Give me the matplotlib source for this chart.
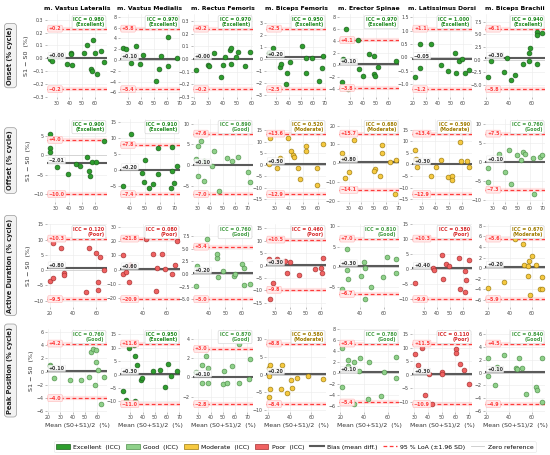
import numpy as np
import matplotlib
matplotlib.use('agg')
import matplotlib.pyplot as plt
import matplotlib.transforms as mtransforms
from matplotlib.patches import Patch
from matplotlib.lines import Line2D
from matplotlib.ticker import MaxNLocator

muscles = ["m. Vastus Lateralis", "m. Vastus Medialis", "m. Rectus Femoris",
           "m. Biceps Femoris", "m. Erector Spinae", "m. Latissimus Dorsi",
           "m. Biceps Brachii"]
row_labels = ["Onset (% cycle)", "Offset (% cycle)", "Active Duration (% cycle)",
              "Peak Position (% cycle)"]

# ---- Onset ----
onset_x = [
    [24.4, 25.8, 38.0, 41.4, 41.4, 41.9, 51.7, 54.2, 58.3, 57.0, 57.8, 60.0, 62.0, 65.3, 67.5],
    [25.7, 28.0, 35.8, 32.3, 41.2, 39.1, 55.8, 60.9, 53.8, 60.9, 51.7, 68.3],
    [21.2, 29.8, 30.5, 33.9, 38.8, 40.0, 41.5, 45.1, 46.0, 45.6, 49.0, 50.7, 55.4, 59.3],
    [23.8, 27.2, 32.8, 34.2, 37.6, 38.8, 41.6, 51.2, 54.4, 54.4, 58.9, 65.1, 68.5, 67.7],
    [26.7, 24.3, 23.2, 28.4, 35.9, 36.8, 39.7, 44.6, 49.0, 49.0, 49.3, 52.2, 66.4],
    [21.4, 25.9, 25.7, 34.4, 42.1, 48.3, 53.7, 54.2, 57.1, 59.1, 61.9, 65.3],
    [21.5, 24.6, 35.4, 37.8, 41.5, 45.5, 52.3, 57.2, 57.2, 58.8, 64.3, 64.6, 64.6, 69.2],
]
onset_y = [
    [-0.005, -0.024, -0.046, 0.043, 0.035, -0.054, 0.040, 0.100, 0.143, -0.084, -0.100, 0.043, -0.120, 0.060, -0.027],
    [2.15, 1.97, 2.6, -0.6, 0.86, -0.74, 0.8, 4.3, -1.6, -1.1, -3.8, 0.43],
    [-0.084, -0.046, -0.060, 0.050, -0.146, -0.046, 0.014, 0.070, 0.084, -0.038, 0.014, 0.054, -0.060, 0.054],
    [0.53, 0.94, -0.64, -0.39, -2.1, -1.17, -0.28, 1.03, 0.11, -1.17, 0.06, -1.8, 0.28, -0.72],
    [6.0, 1.03, -2.8, -4.0, 4.06, -0.69, -1.83, 1.77, 1.43, -1.43, -1.77, -0.29, 0.69],
    [-0.75, 0.5, -0.42, 0.5, -0.31, -0.52, 0.16, -0.58, -0.14, -0.08, -0.61, -0.47],
    [-3.45, -0.2, -2.4, 0.34, -3.9, -3.0, -0.9, -0.34, 1.3, 2.3, -0.83, 5.5, 4.8, 5.3],
]
onset_bias = [0.00, 0.10, 0.00, 0.20, 0.10, -0.05, 0.30]
onset_hi = [0.23, 5.8, 0.24, 2.5, 4.1, 1.07, 6.1]
onset_lo = [-0.24, -5.4, -0.24, -2.5, -3.8, -1.2, -5.8]
onset_icc = [0.980, 0.970, 0.970, 0.950, 0.970, 1.000, 0.940]

# ---- Offset ----
offset_x = [
    [25.8, 25.8, 26.3, 31.6, 39.7, 45.4, 48.8, 54.0, 55.0, 55.8, 57.2, 60.5, 66.6],
    [35.0, 40.8, 50.3, 47.9, 49.7, 52.6, 55.3, 58.9, 58.9, 68.4, 68.4, 69.7, 67.6, 72.0],
    [28.6, 30.0, 33.1, 30.0, 35.1, 35.1, 41.7, 43.1, 46.9, 53.1, 57.4, 61.7, 70.3, 71.7],
    [26.9, 26.0, 31.7, 33.6, 39.5, 41.2, 43.1, 43.8, 46.0, 47.4, 52.1, 52.1, 59.8, 59.8, 63.8],
    [24.5, 26.1, 34.6, 30.0, 26.8, 51.3, 50.7, 55.0, 57.0, 57.0, 63.5, 68.4, 67.2],
    [24.5, 25.3, 25.8, 36.3, 40.5, 44.5, 49.5, 52.1, 52.4, 58.2, 59.0, 63.4, 65.5],
    [26.3, 26.3, 35.3, 40.0, 43.4, 45.0, 49.7, 54.4, 55.9, 52.8, 62.2, 63.1, 68.1, 70.0],
]
offset_y = [
    [5.6, 2.0, 0.9, -3.0, -4.7, -2.3, -2.7, -0.4, -4.1, -5.3, -1.8, -1.6, 3.6],
    [-4.8, 11.3, 3.0, -0.75, -3.5, -5.4, -4.3, -1.1, 7.0, 7.2, -0.3, -4.0, -5.6, 1.4],
    [1.4, 4.5, 5.8, -2.5, -3.9, 1.0, -0.25, 3.4, -6.2, 1.7, 1.0, 1.9, -1.7, -4.0],
    [11.7, 0.3, -1.4, 2.9, 11.7, 6.0, 4.3, 3.3, -1.4, -6.1, 8.1, 6.0, -1.4, -9.0, 8.9],
    [5.6, 3.0, 12.5, -4.7, -8.0, -2.8, -4.1, -6.5, 9.7, 5.6, 0.9, 1.5, -16.4],
    [6.3, 2.3, -0.9, -5.1, -0.9, 1.9, -5.3, -4.9, -6.9, 9.7, 1.6, 1.3, -0.9],
    [-1.6, -5.2, 2.1, -2.7, 3.1, -5.8, 1.9, 2.7, 2.2, 0.6, 1.0, -8.5, 1.2, 1.9],
]
offset_bias = [-2.01, 0.20, 0.10, 0.50, 0.80, 0.30, 0.10]
offset_hi = [4.0, 7.8, 7.6, 13.6, 15.7, 13.4, 7.5]
offset_lo = [-10.0, -7.4, -7.0, -12.9, -14.1, -12.9, -7.3]
offset_icc = [0.900, 0.910, 0.890, 0.520, 0.680, 0.590, 0.760]

# ---- Active duration ----
dur_x = [
    [20.0, 22.9, 22.9, 29.4, 32.3, 32.3, 51.5, 54.1, 59.9, 61.2, 61.2, 63.3, 66.8],
    [22.4, 23.0, 24.8, 27.8, 29.0, 42.2, 48.2, 50.6, 52.1, 56.0, 59.0, 65.0, 67.1, 69.2],
    [32.3, 32.9, 38.9, 45.1, 45.1, 45.7, 48.9, 55.1, 56.0, 60.3, 61.4, 61.4, 65.1],
    [26.0, 26.0, 28.8, 26.7, 31.4, 31.4, 36.6, 38.2, 40.1, 45.5, 56.5, 60.4, 60.7, 61.6],
    [24.6, 28.6, 28.6, 29.7, 40.9, 42.9, 44.3, 44.3, 48.9, 58.9, 62.3, 70.3, 70.3],
    [22.6, 36.5, 37.9, 43.6, 44.7, 46.9, 49.1, 57.3, 57.8, 61.9, 62.4, 61.9, 65.1],
    [20.0, 26.3, 35.1, 44.5, 52.1, 53.0, 57.1, 56.8, 56.8, 60.0, 58.8, 64.1, 69.7, 67.2, 69.7],
]
dur_y = [
    [-3.6, 8.8, -2.5, 7.1, -1.1, -1.6, -7.1, 7.1, 5.7, -4.0, -6.5, 4.3, 0.0],
    [10.5, -3.5, -1.6, -8.6, 3.5, 21.2, 10.7, -14.9, 1.4, 10.7, 0.7, -3.5, 3.0, 19.8],
    [-2.4, 1.6, 7.0, 3.1, 3.9, -0.7, 0.5, -0.34, 0.0, 1.9, 1.2, -2.1, -1.9],
    [10.9, 2.7, -7.2, -13.6, 2.7, 2.0, 1.7, -3.0, 1.3, -3.7, -1.6, -0.85, -3.0, 3.1],
    [-5.5, 4.3, -0.7, -2.9, -2.2, 1.3, -8.0, -0.2, -5.0, -2.6, 2.5, -1.6, 1.9],
    [-4.5, 0.46, -0.2, 4.7, -3.1, 1.8, 1.0, 3.9, -6.4, -0.46, -3.6, -7.4, 3.0],
    [-3.7, -5.6, -2.7, 5.6, 4.6, 0.5, 1.4, 0.4, -1.5, 2.3, -5.1, 0.5, -1.7, -4.0, -3.9],
]
dur_bias = [0.80, 0.60, 0.20, 0.30, 0.30, 0.40, 0.20]
dur_hi = [10.3, 21.8, 5.4, 10.5, 7.0, 10.3, 5.6]
dur_lo = [-9.5, -20.9, -5.0, -9.8, -6.7, -9.9, -5.9]
dur_icc = [0.120, 0.080, 0.760, 0.460, 0.810, 0.380, 0.670]

# ---- Peak position ----
peak_x = [
    [21.4, 22.0, 24.9, 38.0, 47.1, 53.4, 55.1, 56.3, 59.4, 59.1, 60.6, 58.6, 63.4, 65.7],
    [23.7, 26.0, 28.9, 32.9, 33.4, 34.0, 35.7, 38.6, 39.1, 48.3, 54.3, 58.6, 60.6, 62.9, 68.3],
    [28.0, 32.9, 32.9, 36.6, 38.0, 38.0, 50.9, 50.0, 53.7, 57.1, 62.9, 63.1, 71.7, 72.3],
    [21.0, 22.2, 21.6, 22.2, 21.6, 32.7, 32.1, 37.5, 41.3, 42.2, 47.0, 57.1, 70.8],
    [21.4, 21.4, 26.9, 26.9, 32.0, 35.7, 36.3, 31.4, 44.3, 43.1, 54.6, 56.6, 67.1, 66.6],
    [30.5, 33.1, 35.6, 37.7, 40.8, 42.8, 50.5, 50.5, 60.8, 60.8, 63.3, 66.7, 70.3],
    [21.5, 21.5, 29.5, 28.0, 35.7, 46.2, 47.1, 49.2, 51.7, 54.8, 64.0, 64.9, 69.2, 69.5],
]
peak_y = [
    [1.05, 0.8, -0.95, -1.2, -1.2, -0.8, 3.0, 3.4, 3.16, 1.5, 0.2, -2.1, -4.9, -0.84],
    [-6.0, -9.5, 10.0, 10.9, -9.7, 7.1, 3.5, -1.9, -1.4, 1.2, 1.9, -4.5, 3.9, -0.65, 1.3],
    [0.55, 1.27, -0.6, 2.3, 1.0, -0.6, 0.65, -0.65, -0.6, 1.2, -0.55, 3.56, -0.2, 1.9],
    [1.8, 2.6, -0.3, -4.2, -6.5, 2.6, -4.2, -5.3, -1.6, -3.9, -0.9, -0.5, -1.2],
    [-2.5, 4.5, 2.3, 1.2, 2.0, 0.3, 2.7, -5.7, 2.0, -4.7, -4.2, 0.1, 2.9, -1.0],
    [7.6, 3.7, 10.0, -7.5, 0.13, -10.8, 1.05, 0.4, 9.5, 7.9, 4.1, 1.7, -3.6],
    [2.25, -0.5, 0.9, -2.0, 2.8, 0.75, 0.6, 2.2, 0.65, -3.3, -2.3, -2.7, 2.25, -4.5],
]
peak_bias = [0.10, 0.30, 0.10, 0.20, 0.10, 0.30, 0.10]
peak_hi = [4.2, 11.6, 3.0, 8.8, 5.4, 11.5, 4.5]
peak_lo = [-4.0, -11.0, -2.8, -8.4, -5.4, -10.9, -4.9]
peak_icc = [0.760, 0.950, 0.870, 0.580, 0.780, 0.110, 0.840]

rows = [
    (onset_x, onset_y, onset_bias, onset_hi, onset_lo, onset_icc),
    (offset_x, offset_y, offset_bias, offset_hi, offset_lo, offset_icc),
    (dur_x, dur_y, dur_bias, dur_hi, dur_lo, dur_icc),
    (peak_x, peak_y, peak_bias, peak_hi, peak_lo, peak_icc),
]

# category -> (fill, edge, text colour)
cat_style = {
    "Excellent": ("#2e9e2e", "#1d5e1d", "#1f8a1f"),
    "Good": ("#8fd18a", "#4f8f4a", "#3f9a3f"),
    "Moderate": ("#f6c940", "#9a7a10", "#a07c00"),
    "Poor": ("#f06262", "#a33030", "#d62728"),
}


def icc_category(v):
    if v >= 0.9:
        return "Excellent"
    if v >= 0.75:
        return "Good"
    if v >= 0.5:
        return "Moderate"
    return "Poor"


def fmt(v, nd):
    return f"{v:+.{nd}f}".replace("-", "\u2212")


LOA_RED = "#ff3b3b"
BIAS_GREY = "#5a5a5a"
FS = 3.4

fig = plt.figure(figsize=(5.5, 4.55), dpi=100)
gs = fig.add_gridspec(4, 7, left=0.0855, right=0.991, top=0.969, bottom=0.0945,
                      wspace=0.22, hspace=0.265)

for r, (xs, ys, bias, his, los, iccs) in enumerate(rows):
    for c in range(7):
        ax = fig.add_subplot(gs[r, c])
        x = np.array(xs[c])
        y = np.array(ys[c])
        cat = icc_category(iccs[c])
        fill, edge, tcol = cat_style[cat]

        ax.set_facecolor("white")
        for s in ax.spines.values():
            s.set_visible(False)
        ax.grid(True, color="#ebebeb", lw=0.4)
        ax.set_axisbelow(True)

        ax.axhline(0, color="#c8c8c8", lw=0.5, zorder=1)
        for lv in (his[c], los[c]):
            ax.axhline(lv, color="#ffb0b0", lw=3.0, alpha=0.35, zorder=2)
            ax.axhline(lv, color=LOA_RED, lw=0.9, ls=(0, (3, 2)), zorder=3)
        ax.axhline(bias[c], color=BIAS_GREY, lw=1.5, zorder=3)

        ax.scatter(x, y, s=12, c=fill, edgecolors=edge, linewidths=0.45, zorder=4)

        lo_edge = min(los[c], y.min())
        hi_edge = max(his[c], y.max())
        span = hi_edge - lo_edge
        ax.set_ylim(lo_edge - 0.13 * span, hi_edge + 0.24 * span)
        ax.margins(x=0.05)

        trans = mtransforms.blended_transform_factory(ax.transAxes, ax.transData)
        for lv in (his[c], los[c]):
            ax.text(0.03, lv, fmt(lv, 1), transform=trans, fontsize=FS,
                    fontweight="bold", color=LOA_RED, ha="left", va="center",
                    zorder=6,
                    bbox=dict(boxstyle="round,pad=0.2", fc="#ffeaea",
                              ec="#ffb8b8", lw=0.4))
        ax.text(0.03, bias[c], fmt(bias[c], 2), transform=trans, fontsize=FS,
                fontweight="bold", color="#333333", ha="left", va="bottom",
                zorder=6,
                bbox=dict(boxstyle="round,pad=0.15", fc="white", ec="#dddddd",
                          lw=0.3, alpha=0.85))
        ax.text(0.96, 0.965, f"ICC = {iccs[c]:.3f}\n({cat})", transform=ax.transAxes,
                fontsize=FS, fontweight="bold", color=tcol, ha="right", va="top",
                multialignment="right", zorder=7, linespacing=1.1,
                bbox=dict(boxstyle="round,pad=0.3", fc="white", ec="#cfcfcf", lw=0.4))

        ax.yaxis.set_major_locator(MaxNLocator(8, steps=[1, 2, 2.5, 5, 10]))
        ax.xaxis.set_major_locator(MaxNLocator(5, steps=[1, 2, 5, 10]))
        ax.tick_params(labelsize=FS, length=1.5, width=0.4, color="#888888",
                       labelcolor="#444444", pad=1)

        if r == 0:
            ax.set_title(muscles[c], fontsize=4.4, fontweight="bold", pad=3)
        if c == 0:
            ax.set_ylabel("S1 \u2212 S0  (%)", fontsize=4.6, color="#333333", labelpad=2)
        if r == 3:
            ax.set_xlabel("Mean (S0+S1)/2  (%)", fontsize=4.4, color="#333333", labelpad=2)

    # row label
    pos = gs[r, 0].get_position(fig)
    fig.text(0.019, (pos.y0 + pos.y1) / 2, row_labels[r], rotation=90, fontsize=4.8,
             fontweight="bold", ha="center", va="center", color="#222222",
             bbox=dict(boxstyle="round,pad=0.45", fc="#f2f2f2", ec="#9a9a9a", lw=0.5))

handles = [
    Patch(fc=cat_style["Excellent"][0], ec=cat_style["Excellent"][1], lw=0.5, label="Excellent  (ICC)"),
    Patch(fc=cat_style["Good"][0], ec=cat_style["Good"][1], lw=0.5, label="Good  (ICC)"),
    Patch(fc=cat_style["Moderate"][0], ec=cat_style["Moderate"][1], lw=0.5, label="Moderate  (ICC)"),
    Patch(fc=cat_style["Poor"][0], ec=cat_style["Poor"][1], lw=0.5, label="Poor  (ICC)"),
    Line2D([], [], color=BIAS_GREY, lw=1.5, label="Bias (mean diff.)"),
    Line2D([], [], color=LOA_RED, lw=0.9, ls=(0, (3, 2)), label="95 % LoA (\u00b11.96 SD)"),
    Line2D([], [], color="#c8c8c8", lw=0.6, label="Zero reference"),
]
leg = fig.legend(handles=handles, loc="center", bbox_to_anchor=(0.536, 0.018), ncol=7,
                 fontsize=4.4, frameon=True, handlelength=2.2, handleheight=1.0,
                 columnspacing=1.0, handletextpad=0.5, borderpad=0.4)
leg.get_frame().set_edgecolor("#dddddd")
leg.get_frame().set_linewidth(0.4)

fig.savefig("out.png", dpi=100, facecolor="white")
